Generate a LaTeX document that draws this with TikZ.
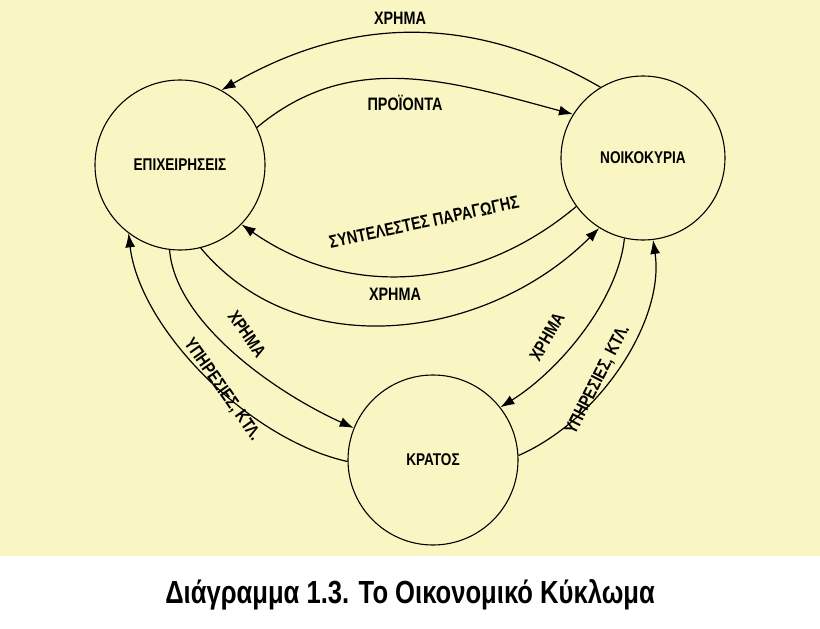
\documentclass[tikz,border=0pt]{standalone}
\usepackage{fontspec}
\setmainfont{Liberation Sans}[FakeStretch=0.8]
\newfontfamily\lblfont{Liberation Sans Bold}[FakeStretch=0.8]
\usetikzlibrary{arrows.meta}
\begin{document}
\begin{tikzpicture}[x=1pt,y=-1pt,
  circ/.style={circle,draw,line width=1.1pt,minimum size=170pt,inner sep=0pt,font=\fontsize{17}{19}\lblfont},
  flow/.style={line width=1.2pt,-{Latex[length=14pt,width=10pt]}},
  lbl/.style={font=\fontsize{18}{20}\lblfont,inner sep=1pt}]
\useasboundingbox (0,0) rectangle (820,629);
\fill[fill={rgb,255:red,250;green,246;blue,196}] (0,0) rectangle (820,556);
\node[circ] (L) at (180,165) {ΕΠΙΧΕΙΡΗΣΕΙΣ};
\node[circ,minimum size=164pt] (R) at (643,158) {ΝΟΙΚΟΚΥΡΙΑ};
\node[circ] (K) at (433,460) {ΚΡΑΤΟΣ};
\draw[flow] (R.121) to[out=150,in=30] (L.61);
\draw[flow] (L.26) to[out=40,in=165] (R.148);
\draw[flow] (R.216) to[out=220,in=-35] (L.316);
\draw[flow] (L.284) to[out=-50,in=-135] (R.238);
\draw[flow] (K.181) .. controls (250,440) and (140,330) .. (L.233);
\draw[flow] (L.263) .. controls (175,320) and (270,390) .. (K.158);
\draw[flow] (R.257) .. controls (618,300) and (560,370) .. (K.38);
\draw[flow] (K.3) .. controls (600,420) and (665,320) .. (R.277);
\node[lbl] (t1) at (400,18) {ΧΡΗΜΑ};
\node[lbl] (t2) at (405,103) {ΠΡΟΪΟΝΤΑ};
\node[lbl,rotate=12] (t3) at (424,222) {ΣΥΝΤΕΛΕΣΤΕΣ ΠΑΡΑΓΩΓΗΣ};
\node[lbl] (t4) at (395,294) {ΧΡΗΜΑ};
\node[lbl,rotate=-55] (t5) at (247,334) {ΧΡΗΜΑ};
\node[lbl,rotate=-55] (t6) at (222,390) {ΥΠΗΡΕΣΙΕΣ, ΚΤΛ.};
\node[lbl,rotate=60] (t7) at (547,337) {ΧΡΗΜΑ};
\node[lbl,rotate=63] (t8) at (598,380) {ΥΠΗΡΕΣΙΕΣ, ΚΤΛ.};
\node[font=\fontsize{32}{36}\lblfont] (cap) at (410,595) {Διάγραμμα 1.3. Το Οικονομικό Κύκλωμα};
\end{tikzpicture}
\end{document}
